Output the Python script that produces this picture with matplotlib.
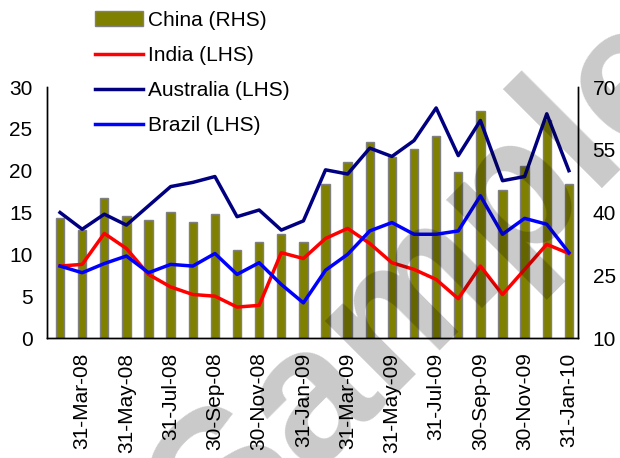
import matplotlib
matplotlib.use("Agg")
import matplotlib.pyplot as plt
import numpy as np
import pandas as pd

plt.rcParams['font.family'] = ['Liberation Sans', 'DejaVu Sans']

# month-end dates, Feb-08 .. Jan-10
dates = pd.date_range('2008-02-29', periods=24, freq='ME')

# China, RHS scale
china = [38.6, 35.7, 43.4, 39.1, 38.1, 40.1, 37.7, 39.6, 31.0, 32.9, 34.8, 32.9,
         46.7, 52.0, 56.8, 53.3, 55.3, 58.2, 49.6, 64.3, 45.3, 51.0, 62.1, 46.7]
# LHS series
india = [8.6, 8.8, 12.5, 10.7, 7.6, 6.1, 5.2, 5.0, 3.7, 3.9, 10.2, 9.5,
         11.9, 13.1, 11.3, 9.0, 8.2, 7.0, 4.7, 8.6, 5.2, 8.2, 11.2, 10.1]
australia = [15.0, 13.0, 14.8, 13.5, 15.8, 18.1, 18.6, 19.3, 14.5, 15.3, 12.9, 14.0,
             20.1, 19.6, 22.7, 21.7, 23.6, 27.5, 21.8, 26.0, 18.8, 19.3, 26.8, 20.0]
brazil = [8.6, 7.8, 8.9, 9.8, 7.8, 8.8, 8.6, 10.1, 7.6, 9.0, 6.4, 4.2,
          8.1, 10.0, 12.8, 13.8, 12.4, 12.4, 12.8, 17.0, 12.4, 14.3, 13.6, 10.2]

x = np.arange(len(dates))
tick_idx = x[1::2]
tick_labels = [d.strftime('%d-%b-%y') for d in dates[1::2]]

FS = 15

fig = plt.figure(figsize=(6.2, 4.58), dpi=100)
ax = fig.add_axes([0.0758, 0.262, 0.8564, 0.548])
ax2 = ax.twinx()

bars = ax2.bar(x, china, width=0.38, color='#808000', edgecolor='#808080',
               linewidth=1.0, label='China (RHS)')
ax2.set_ylim(10, 70)
ax2.set_yticks([10, 25, 40, 55, 70])

l1, = ax.plot(x, india, color='#FF0000', lw=2.5, label='India (LHS)')
l2, = ax.plot(x, australia, color='#000080', lw=2.5, label='Australia (LHS)')
l3, = ax.plot(x, brazil, color='#0000FF', lw=2.5, label='Brazil (LHS)')
ax.set_ylim(0, 30)
ax.set_yticks(range(0, 31, 5))
ax.set_xlim(-0.59, 23.41)
ax.set_xticks(tick_idx)
ax.set_xticklabels(tick_labels, rotation=90)

# lines above the bars
ax.set_zorder(ax2.get_zorder() + 1)
ax.patch.set_visible(False)

for a in (ax, ax2):
    a.tick_params(length=0, labelsize=FS, colors='black')
    a.spines['top'].set_visible(False)
    for s in a.spines.values():
        s.set_linewidth(1.0)
ax.tick_params(axis='x', pad=10.5)
ax.tick_params(axis='y', pad=10.5)
ax2.tick_params(axis='y', pad=10.5)

fig.legend([bars, l1, l2, l3],
           ['China (RHS)', 'India (LHS)', 'Australia (LHS)', 'Brazil (LHS)'],
           loc='upper left', bbox_to_anchor=(95 / 620, 1 - 11 / 458),
           frameon=False, fontsize=FS, borderpad=0, borderaxespad=0,
           handlelength=2.3, handletextpad=0.25, labelspacing=0.77)

# watermark
fig.text(220 / 620, 1 - 565 / 458, 'Sample', fontsize=139, fontweight='bold',
         color='black', alpha=0.21, rotation=45, rotation_mode='anchor',
         ha='left', va='baseline', zorder=10)

fig.savefig('out.png', dpi=100)
